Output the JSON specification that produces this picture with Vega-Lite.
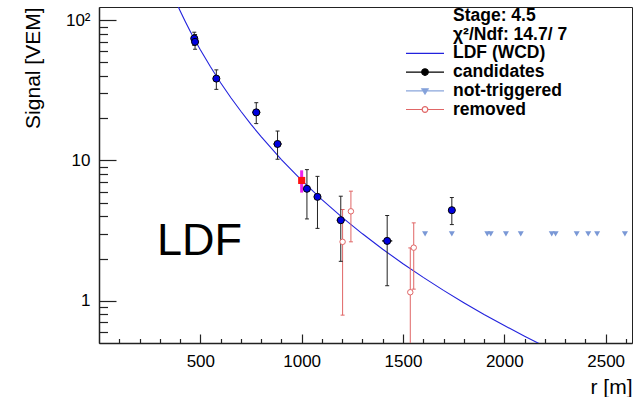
{
  "$schema": "https://vega.github.io/schema/vega-lite/v6.json",
  "width": 533,
  "height": 336,
  "autosize": "none",
  "padding": {"left": 99, "top": 7, "right": 5, "bottom": 54},
  "config": {
    "font": "Liberation Sans",
    "view": {"stroke": "#222", "strokeWidth": 1},
    "axis": {"grid": false}
  },
  "datasets": {
    "ldf": [
      {"r": 350, "s": 168.9}, {"r": 375, "s": 139.6}, {"r": 400, "s": 116.6}, {"r": 425, "s": 98.2},
      {"r": 450, "s": 83.4}, {"r": 475, "s": 71.4}, {"r": 500, "s": 61.5}, {"r": 550, "s": 46.5},
      {"r": 600, "s": 35.8}, {"r": 650, "s": 28.1}, {"r": 700, "s": 22.4}, {"r": 750, "s": 18.07},
      {"r": 800, "s": 14.76}, {"r": 900, "s": 10.14}, {"r": 1000, "s": 7.2}, {"r": 1100, "s": 5.26},
      {"r": 1200, "s": 3.93}, {"r": 1300, "s": 3.0}, {"r": 1400, "s": 2.33}, {"r": 1500, "s": 1.835},
      {"r": 1600, "s": 1.467}, {"r": 1700, "s": 1.186}, {"r": 1800, "s": 0.969}, {"r": 1900, "s": 0.799},
      {"r": 2000, "s": 0.666}, {"r": 2100, "s": 0.559}, {"r": 2200, "s": 0.472}, {"r": 2250, "s": 0.435}
    ],
    "cand": [
      {"r": 470, "s": 74, "lo": 66, "hi": 82, "rlo": 462, "rhi": 478},
      {"r": 474, "s": 70, "lo": 62, "hi": 79, "rlo": 466, "rhi": 482},
      {"r": 579, "s": 38.3, "lo": 32.1, "hi": 44.2, "rlo": 572, "rhi": 586},
      {"r": 776, "s": 22.0, "lo": 18.3, "hi": 25.8, "rlo": 756, "rhi": 796},
      {"r": 881, "s": 13.1, "lo": 10.2, "hi": 16.2, "rlo": 861, "rhi": 901},
      {"r": 1026, "s": 6.28, "lo": 3.83, "hi": 8.6, "rlo": 1014, "rhi": 1038},
      {"r": 1078, "s": 5.5, "lo": 3.28, "hi": 7.7, "rlo": 1068, "rhi": 1088},
      {"r": 1193, "s": 3.75, "lo": 1.91, "hi": 5.56, "rlo": 1173, "rhi": 1213},
      {"r": 1422, "s": 2.67, "lo": 1.28, "hi": 4.05, "rlo": 1397, "rhi": 1447},
      {"r": 1741, "s": 4.42, "lo": 3.49, "hi": 5.44, "rlo": 1736, "rhi": 1746}
    ],
    "rem": [
      {"r": 1202, "s": 2.63, "lo": 0.79, "hi": 4.47},
      {"r": 1243, "s": 4.34, "lo": 2.63, "hi": 6.04},
      {"r": 1536, "s": 1.15, "lo": 0.3, "hi": 2.38},
      {"r": 1553, "s": 2.39, "lo": 1.21, "hi": 3.59}
    ],
    "sel": [{"r": 1000, "s": 7.2, "lo": 5.9, "hi": 8.5}],
    "nt": [
      {"r": 1609, "s": 3.0}, {"r": 1741, "s": 3.0}, {"r": 1916, "s": 3.0}, {"r": 1933, "s": 3.0},
      {"r": 2008, "s": 3.0}, {"r": 2081, "s": 3.0}, {"r": 2234, "s": 3.0}, {"r": 2253, "s": 3.0},
      {"r": 2357, "s": 3.0}, {"r": 2414, "s": 3.0}, {"r": 2458, "s": 3.0}, {"r": 2595, "s": 3.0}
    ],
    "lab": [{"r": 286, "s": 2.13, "t": "LDF"}],
    "leg": [
      {"k": "Stage: 4.5"}, {"k": "χ²/Ndf: 14.7/ 7"}, {"k": "LDF (WCD)"},
      {"k": "candidates"}, {"k": "not-triggered"}, {"k": "removed"}
    ]
  },
  "layer": [
    {
      "data": {"name": "ldf"},
      "mark": {"type": "line", "color": "#2222dd", "strokeWidth": 1.1, "clip": true},
      "encoding": {
        "x": {"field": "r", "type": "quantitative", "scale": {"domain": [0, 2630], "nice": false, "zero": false},
          "axis": {"orient": "bottom", "values": [500, 1000, 1500, 2000, 2500], "format": "d", "tickSize": -9, "labelPadding": 19,
            "domainColor": "#222", "domainWidth": 1.5, "tickColor": "#222", "tickWidth": 1.2,
            "labelFont": "Liberation Sans", "labelFontSize": 17, "labelColor": "#000",
            "title": "r [m]", "titleAnchor": "end", "titleFont": "Liberation Sans", "titleFontSize": 21, "titleFontWeight": "normal", "titleColor": "#000", "titlePadding": 7}},
        "y": {"field": "s", "type": "quantitative", "scale": {"type": "log", "domain": [0.5, 124], "nice": false},
          "axis": {"orient": "left", "values": [1, 10, 100], "labelExpr": "datum.value == 100 ? '10²' : datum.value == 10 ? '10' : '1'", "tickSize": -17, "labelPadding": 26,
            "domainColor": "#222", "domainWidth": 1.5, "tickColor": "#222", "tickWidth": 1.2,
            "labelFont": "Liberation Sans", "labelFontSize": 17, "labelColor": "#000",
            "title": "Signal [VEM]", "titleAnchor": "end", "titleFont": "Liberation Sans", "titleFontSize": 21, "titleFontWeight": "normal", "titleColor": "#000", "titlePadding": 22}}
      }
    },
    {
      "data": {"name": "nt"},
      "mark": {"type": "point", "shape": "triangle-down", "filled": true, "color": "#7a98d6", "size": 36, "opacity": 1},
      "encoding": {
        "x": {"field": "r", "type": "quantitative", "scale": {"domain": [0, 2630], "nice": false, "zero": false},
          "axis": {"orient": "bottom", "values": [100, 200, 300, 400, 600, 700, 800, 900, 1100, 1200, 1300, 1400, 1600, 1700, 1800, 1900, 2100, 2200, 2300, 2400, 2600],
            "labels": false, "domain": false, "tickSize": -4.5, "tickColor": "#222", "tickWidth": 1.2, "title": null}},
        "y": {"field": "s", "type": "quantitative", "scale": {"type": "log", "domain": [0.5, 124], "nice": false},
          "axis": {"orient": "left", "values": [0.6, 0.7, 0.8, 0.9, 2, 3, 4, 5, 6, 7, 8, 9, 20, 30, 40, 50, 60, 70, 80, 90],
            "labels": false, "domain": false, "tickSize": -8.5, "tickColor": "#222", "tickWidth": 1.2, "title": null}}
      }
    },
    {
      "data": {"name": "rem"},
      "mark": {"type": "rule", "color": "#e06666", "strokeWidth": 1, "clip": true},
      "encoding": {
        "x": {"field": "r", "type": "quantitative", "scale": {"domain": [0, 2630], "nice": false, "zero": false}, "axis": null},
        "y": {"field": "lo", "type": "quantitative", "scale": {"type": "log", "domain": [0.5, 124], "nice": false}, "axis": null},
        "y2": {"field": "hi"}
      }
    },
    {
      "data": {"name": "rem"},
      "mark": {"type": "tick", "orient": "horizontal", "color": "#e06666", "size": 4, "thickness": 1, "opacity": 1, "clip": true},
      "encoding": {
        "x": {"field": "r", "type": "quantitative", "scale": {"domain": [0, 2630], "nice": false, "zero": false}, "axis": null},
        "y": {"field": "lo", "type": "quantitative", "scale": {"type": "log", "domain": [0.5, 124], "nice": false}, "axis": null}
      }
    },
    {
      "data": {"name": "rem"},
      "mark": {"type": "tick", "orient": "horizontal", "color": "#e06666", "size": 4, "thickness": 1, "opacity": 1, "clip": true},
      "encoding": {
        "x": {"field": "r", "type": "quantitative", "scale": {"domain": [0, 2630], "nice": false, "zero": false}, "axis": null},
        "y": {"field": "hi", "type": "quantitative", "scale": {"type": "log", "domain": [0.5, 124], "nice": false}, "axis": null}
      }
    },
    {
      "data": {"name": "cand"},
      "mark": {"type": "rule", "color": "#222", "strokeWidth": 1, "clip": true},
      "encoding": {
        "x": {"field": "r", "type": "quantitative", "scale": {"domain": [0, 2630], "nice": false, "zero": false}, "axis": null},
        "y": {"field": "lo", "type": "quantitative", "scale": {"type": "log", "domain": [0.5, 124], "nice": false}, "axis": null},
        "y2": {"field": "hi"}
      }
    },
    {
      "data": {"name": "cand"},
      "mark": {"type": "tick", "orient": "horizontal", "color": "#222", "size": 4, "thickness": 1, "opacity": 1, "clip": true},
      "encoding": {
        "x": {"field": "r", "type": "quantitative", "scale": {"domain": [0, 2630], "nice": false, "zero": false}, "axis": null},
        "y": {"field": "lo", "type": "quantitative", "scale": {"type": "log", "domain": [0.5, 124], "nice": false}, "axis": null}
      }
    },
    {
      "data": {"name": "cand"},
      "mark": {"type": "tick", "orient": "horizontal", "color": "#222", "size": 4, "thickness": 1, "opacity": 1, "clip": true},
      "encoding": {
        "x": {"field": "r", "type": "quantitative", "scale": {"domain": [0, 2630], "nice": false, "zero": false}, "axis": null},
        "y": {"field": "hi", "type": "quantitative", "scale": {"type": "log", "domain": [0.5, 124], "nice": false}, "axis": null}
      }
    },
    {
      "data": {"name": "cand"},
      "mark": {"type": "rule", "color": "#222", "strokeWidth": 1.5, "clip": true},
      "encoding": {
        "x": {"field": "rlo", "type": "quantitative", "scale": {"domain": [0, 2630], "nice": false, "zero": false}, "axis": null},
        "x2": {"field": "rhi"},
        "y": {"field": "s", "type": "quantitative", "scale": {"type": "log", "domain": [0.5, 124], "nice": false}, "axis": null}
      }
    },
    {
      "data": {"name": "sel"},
      "mark": {"type": "rule", "color": "#ee22ee", "strokeWidth": 3, "clip": true},
      "encoding": {
        "x": {"field": "r", "type": "quantitative", "scale": {"domain": [0, 2630], "nice": false, "zero": false}, "axis": null},
        "y": {"field": "lo", "type": "quantitative", "scale": {"type": "log", "domain": [0.5, 124], "nice": false}, "axis": null},
        "y2": {"field": "hi"}
      }
    },
    {
      "data": {"name": "sel"},
      "mark": {"type": "point", "shape": "square", "filled": true, "color": "#ff1111", "size": 50, "opacity": 1},
      "encoding": {
        "x": {"field": "r", "type": "quantitative", "scale": {"domain": [0, 2630], "nice": false, "zero": false}, "axis": null},
        "y": {"field": "s", "type": "quantitative", "scale": {"type": "log", "domain": [0.5, 124], "nice": false}, "axis": null}
      }
    },
    {
      "data": {"name": "rem"},
      "mark": {"type": "point", "shape": "circle", "filled": true, "fill": "#ffffff", "stroke": "#e06666", "strokeWidth": 1, "size": 30, "opacity": 1},
      "encoding": {
        "x": {"field": "r", "type": "quantitative", "scale": {"domain": [0, 2630], "nice": false, "zero": false}, "axis": null},
        "y": {"field": "s", "type": "quantitative", "scale": {"type": "log", "domain": [0.5, 124], "nice": false}, "axis": null}
      }
    },
    {
      "data": {"name": "cand"},
      "mark": {"type": "point", "shape": "circle", "filled": true, "fill": "#0000e0", "stroke": "#000000", "strokeWidth": 1, "size": 50, "opacity": 1},
      "encoding": {
        "x": {"field": "r", "type": "quantitative", "scale": {"domain": [0, 2630], "nice": false, "zero": false}, "axis": null},
        "y": {"field": "s", "type": "quantitative", "scale": {"type": "log", "domain": [0.5, 124], "nice": false}, "axis": null}
      }
    },
    {
      "data": {"name": "lab"},
      "mark": {"type": "text", "align": "left", "baseline": "alphabetic", "font": "Liberation Sans", "fontSize": 45, "color": "#000"},
      "encoding": {
        "x": {"field": "r", "type": "quantitative", "scale": {"domain": [0, 2630], "nice": false, "zero": false}, "axis": null},
        "y": {"field": "s", "type": "quantitative", "scale": {"type": "log", "domain": [0.5, 124], "nice": false}, "axis": null},
        "text": {"field": "t"}
      }
    },
    {
      "data": {"name": "leg"},
      "mark": {"type": "point", "opacity": 0},
      "encoding": {
        "shape": {"field": "k", "type": "nominal",
          "scale": {"domain": ["Stage: 4.5", "χ²/Ndf: 14.7/ 7", "LDF (WCD)", "candidates", "not-triggered", "removed"],
            "range": ["M0,0", "M0,0", "M-2.375,0L2.375,0",
              "M-2.375,0L2.375,0M-0.41,0A0.41,0.41,0,1,0,0.41,0A0.41,0.41,0,1,0,-0.41,0Z",
              "M-2.375,0L2.375,0M-0.4,-0.25L0.4,-0.25L0,0.42Z",
              "M-2.375,0L-0.35,0M0.35,0L2.375,0M-0.35,0A0.35,0.35,0,1,0,0.35,0A0.35,0.35,0,1,0,-0.35,0Z"]},
          "legend": {"title": null, "orient": "none", "legendX": 306, "legendY": 0, "padding": 0, "symbolSize": 256, "symbolStrokeWidth": 1.2, "symbolOpacity": 1, "symbolOffset": 11,
            "labelFont": "Liberation Sans", "labelFontSize": 17.5, "labelFontWeight": "bold", "labelColor": "#000", "labelOffset": 19, "labelLimit": 300, "rowPadding": 0.7}},
        "fill": {"field": "k", "type": "nominal",
          "scale": {"domain": ["Stage: 4.5", "χ²/Ndf: 14.7/ 7", "LDF (WCD)", "candidates", "not-triggered", "removed"],
            "range": ["transparent", "transparent", "transparent", "#000000", "#7a98d6", "#ffffff"]},
          "legend": {"title": null, "orient": "none", "legendX": 306, "legendY": 0, "padding": 0, "symbolSize": 256, "symbolStrokeWidth": 1.2, "symbolOpacity": 1, "symbolOffset": 11,
            "labelFont": "Liberation Sans", "labelFontSize": 17.5, "labelFontWeight": "bold", "labelColor": "#000", "labelOffset": 19, "labelLimit": 300, "rowPadding": 0.7}},
        "stroke": {"field": "k", "type": "nominal",
          "scale": {"domain": ["Stage: 4.5", "χ²/Ndf: 14.7/ 7", "LDF (WCD)", "candidates", "not-triggered", "removed"],
            "range": ["transparent", "transparent", "#2222dd", "#000000", "#8aa6dc", "#e06666"]},
          "legend": {"title": null, "orient": "none", "legendX": 306, "legendY": 0, "padding": 0, "symbolSize": 256, "symbolStrokeWidth": 1.2, "symbolOpacity": 1, "symbolOffset": 11,
            "labelFont": "Liberation Sans", "labelFontSize": 17.5, "labelFontWeight": "bold", "labelColor": "#000", "labelOffset": 19, "labelLimit": 300, "rowPadding": 0.7}}
      }
    }
  ],
  "resolve": {"axis": {"x": "independent", "y": "independent"}}
}
